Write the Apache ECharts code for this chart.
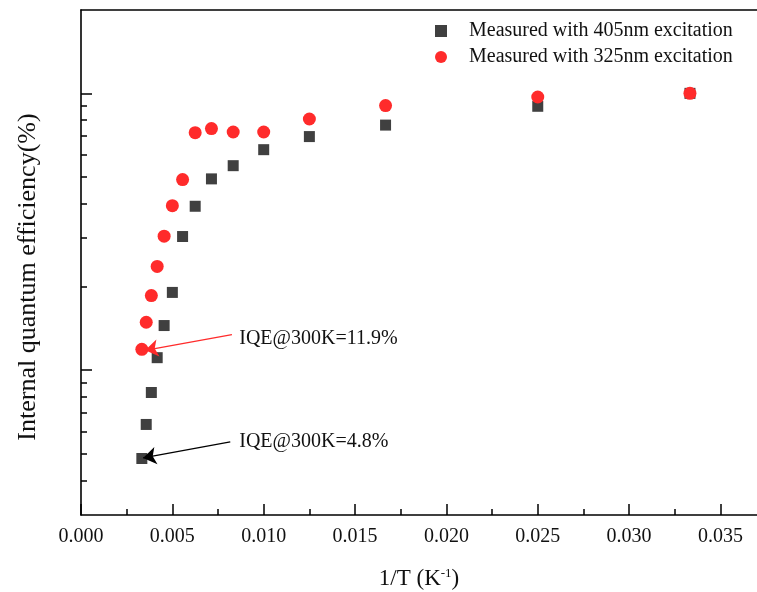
<!DOCTYPE html>
<html>
<head>
<meta charset="utf-8">
<script src="https://cdn.jsdelivr.net/npm/echarts@6/dist/echarts.min.js"></script>
<style>
  html, body { margin: 0; padding: 0; background: #fff; }
  #chart { width: 757px; height: 592px; }
</style>
</head>
<body>
<div id="chart"></div>
<script>
// 1/T values (K^-1), 300K down to 30K
const invT = [0.00333, 0.00357, 0.00385, 0.00417, 0.00455, 0.00500, 0.00556, 0.00625,
              0.00714, 0.00833, 0.01000, 0.01250, 0.01667, 0.02500, 0.03333];
// IQE (%)
const iqe405 = [4.8, 6.37, 8.31, 11.1, 14.5, 19.1, 30.4, 39.1, 49.1, 54.8, 62.6, 69.8, 76.8, 89.8, 100];
const iqe325 = [11.9, 14.9, 18.6, 23.7, 30.5, 39.3, 48.8, 72.1, 74.6, 72.5, 72.5, 80.8, 90.3, 97.0, 100];

const seriesNames = ['Measured with 405nm excitation', 'Measured with 325nm excitation'];

// axis ticks
const xTicks = [0, 0.005, 0.010, 0.015, 0.020, 0.025, 0.030, 0.035];
const xMinorTicks = [0.0025, 0.0075, 0.0125, 0.0175, 0.0225, 0.0275, 0.0325];
const yMajorTicks = [10, 100];
const yMinorTicks = [4, 5, 6, 7, 8, 9, 20, 30, 40, 50, 60, 70, 80, 90];

// annotations (data coords): arrow tail -> head, label anchor
const noteText = ['IQE@300K=11.9%', 'IQE@300K=4.8%'];
const noteArrow325 = [[0.00826, 13.45], [0.00351, 11.8]];
const noteArrow405 = [[0.00817, 5.51], [0.00340, 4.82]];
const noteAnchor = [[0.00866, 12.94], [0.00866, 5.51]];

const FONT = 'Liberation Serif, Times New Roman, serif';
const RED = '#ff2b2b';
const DARK = '#404040';

const chart = echarts.init(document.getElementById('chart'));

const xBase = {
  type: 'value', min: 0, max: 0.037,
  splitLine: { show: false }
};
const yBase = {
  type: 'log', logBase: 10, min: 3, max: 200,
  splitLine: { show: false },
  axisLabel: { show: false }
};

const option = {
  animation: false,
  backgroundColor: '#fff',
  grid: { left: 81, right: 0, top: 10, bottom: 77, containLabel: false, outerBoundsMode: 'none' },
  legend: {
    orient: 'vertical',
    left: 430, top: 16,
    itemWidth: 12, itemHeight: 12,
    itemGap: 6,
    textStyle: { fontFamily: FONT, fontSize: 20, color: '#111', lineHeight: 20, padding: [0, 0, 0, 17] },
    data: seriesNames
  },
  xAxis: [
    Object.assign({}, xBase, {
      position: 'bottom',
      axisLine: { onZero: false, lineStyle: { color: '#000', width: 1.6 } },
      axisTick: { inside: true, length: 11, customValues: xTicks, lineStyle: { color: '#000', width: 1.5 } },
      axisLabel: {
        customValues: xTicks, margin: 12,
        fontFamily: FONT, fontSize: 20, color: '#111',
        formatter: v => v.toFixed(3)
      },
      name: '1/T (K{sup|-1})',
      nameLocation: 'middle', nameGap: 52,
      nameTextStyle: {
        fontFamily: FONT, fontSize: 23, color: '#111',
        rich: { sup: { fontFamily: FONT, fontSize: 13, color: '#111', padding: [0, 0, 11, 0] } }
      }
    }),
    Object.assign({}, xBase, {
      position: 'bottom',
      axisLine: { show: false, onZero: false },
      axisTick: { inside: true, length: 6, customValues: xMinorTicks, lineStyle: { color: '#000', width: 1.5 } },
      axisLabel: { show: false }
    }),
    Object.assign({}, xBase, {
      position: 'top',
      axisLine: { onZero: false, lineStyle: { color: '#000', width: 1.6 } },
      axisTick: { show: false },
      axisLabel: { show: false }
    })
  ],
  yAxis: [
    Object.assign({}, yBase, {
      position: 'left',
      axisLine: { onZero: false, lineStyle: { color: '#000', width: 1.6 } },
      axisTick: { inside: true, length: 11, customValues: yMajorTicks, lineStyle: { color: '#000', width: 1.5 } }
    }),
    Object.assign({}, yBase, {
      position: 'left',
      axisLine: { show: false, onZero: false },
      axisTick: { inside: true, length: 6, customValues: yMinorTicks, lineStyle: { color: '#000', width: 1.5 } }
    })
  ],
  series: [
    {
      name: seriesNames[0],
      type: 'scatter',
      symbol: 'rect',
      symbolSize: 11,
      itemStyle: { color: DARK, opacity: 1 },
      data: invT.map((x, i) => [x, iqe405[i]]),
      markLine: {
        silent: true, animation: false,
        symbol: ['none', 'arrow'], symbolSize: 13,
        label: { show: false },
        lineStyle: { color: '#000', width: 1.3, type: 'solid' },
        data: [[{ coord: noteArrow405[0] }, { coord: noteArrow405[1] }]]
      }
    },
    {
      name: seriesNames[1],
      type: 'scatter',
      symbol: 'circle',
      symbolSize: 13,
      itemStyle: { color: RED, opacity: 1 },
      data: invT.map((x, i) => [x, iqe325[i]]),
      markLine: {
        silent: true, animation: false,
        symbol: ['none', 'arrow'], symbolSize: 13,
        label: { show: false },
        lineStyle: { color: RED, width: 1.3, type: 'solid' },
        data: [[{ coord: noteArrow325[0] }, { coord: noteArrow325[1] }]]
      }
    }
  ]
};

chart.setOption(option);

// annotation labels and y title
const graphics = noteText.map((t, i) => {
  const p = chart.convertToPixel({ xAxisIndex: 0, yAxisIndex: 0 }, noteAnchor[i]);
  return {
    type: 'text', x: p[0], y: p[1],
    style: { text: t, fontFamily: FONT, fontSize: 20, fill: '#111', align: 'left', verticalAlign: 'middle' }
  };
});
graphics.push({
  type: 'text', x: 28, y: 277, rotation: Math.PI / 2,
  style: {
    text: 'Internal quantum efficiency(%)', fontFamily: FONT, fontSize: 26,
    fill: '#111', align: 'center', verticalAlign: 'middle'
  }
});
chart.setOption({ graphic: graphics });
</script>
</body>
</html>
